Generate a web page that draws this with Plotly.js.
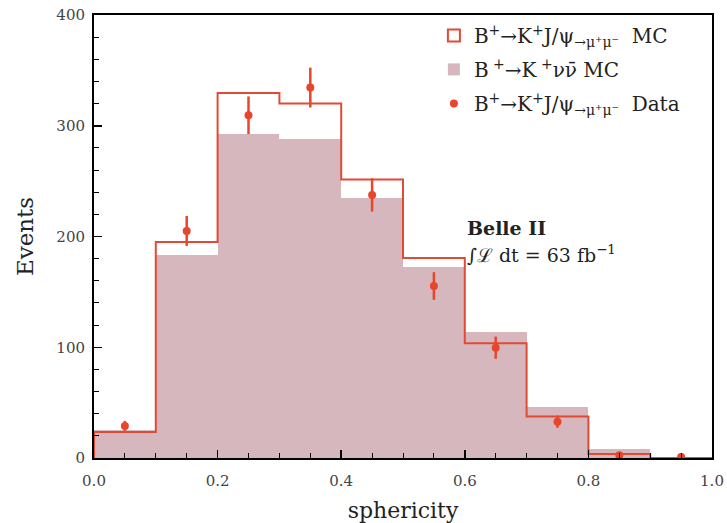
<!DOCTYPE html>
<html>
<head>
<meta charset="utf-8">
<script src="https://cdn.plot.ly/plotly-3.0.1.min.js"></script>
<style>html,body{margin:0;padding:0;background:#fff;}#chart{width:727px;height:523px;}</style>
</head>
<body>
<div id="chart"></div>
<script>
// bin definitions
const binEdges = [0.0, 0.1, 0.2, 0.3, 0.4, 0.5, 0.6, 0.7, 0.8, 0.9, 1.0];
const binCenters = [0.05, 0.15, 0.25, 0.35, 0.45, 0.55, 0.65, 0.75, 0.85, 0.95];
// B+ -> K+ J/psi MC (red step outline)
const jpsiMC = [23.5, 195, 329.5, 320, 251.5, 180.5, 103.5, 37.5, 3.6, 0];
// B+ -> K+ nu nubar MC (pink filled)
const nunuMC = [25, 183, 292.5, 288, 234.5, 172.7, 113.4, 46.3, 8, 0];
// data points with errors
const dataY = [29, 205, 309.5, 334.5, 237.5, 155.3, 99.6, 32.8, 2.5, 1];
const dataErr = [4.5, 13.5, 17, 18, 15, 12.5, 10, 5.5, 2, 1.5];
const xTickVals = [0.0, 0.2, 0.4, 0.6, 0.8, 1.0];
const yTickVals = [0, 100, 200, 300, 400];

const RED = '#e14b35';
const PINK = '#d5b7bd';
const DOT = '#e8452d';
const SERIF = '"DejaVu Serif", "Liberation Serif", serif';

// step outline built from bin edges
const stepX = [binEdges[0]];
const stepY = [0];
for (let i = 0; i < jpsiMC.length; i++) { stepX.push(binEdges[i]); stepY.push(jpsiMC[i]); }
stepX.push(binEdges[binEdges.length - 1]); stepY.push(jpsiMC[jpsiMC.length - 1]);

const lab1 = 'B<sup>+</sup>→K<sup>+</sup>J/ψ<sub>→μ⁺μ⁻</sub>  MC';
const lab2 = 'B<sup> +</sup>→K<sup> +</sup>νν̄ MC';
const lab3 = 'B<sup>+</sup>→K<sup>+</sup>J/ψ<sub>→μ⁺μ⁻</sub>  Data';

const traces = [
  { type: 'bar', x: [null], y: [null], name: lab1, showlegend: true, legendgroup: 'a',
    marker: { color: 'rgba(255,255,255,1)', line: { color: RED, width: 2 } }, legendrank: 1 },
  { type: 'bar', x: binCenters, y: nunuMC, width: 0.1, name: lab2, legendgroup: 'b',
    marker: { color: PINK, line: { width: 0 } }, legendrank: 2 },
  { type: 'scatter', mode: 'lines', x: stepX, y: stepY, line: { shape: 'hv', color: RED, width: 2 },
    showlegend: false, name: 'jpsi MC', legendgroup: 'a' },
  { type: 'scatter', mode: 'markers', x: binCenters, y: dataY, name: lab3, legendrank: 3, legendgroup: 'c',
    marker: { color: DOT, size: 8 },
    error_y: { type: 'data', array: dataErr, visible: true, color: DOT, thickness: 2.5, width: 0 } }
];

const axisCommon = {
  showline: true, linecolor: '#000', linewidth: 2, mirror: true,
  ticks: 'inside', tickcolor: '#000', tickwidth: 1.5, ticklen: 8,
  showgrid: false, zeroline: false,
  tickfont: { family: SERIF, size: 15, color: '#444' }
};

const layout = {
  width: 727, height: 523,
  margin: { l: 94, r: 15, t: 15, b: 65 },
  paper_bgcolor: '#fff', plot_bgcolor: '#fff',
  barmode: 'overlay', bargap: 0,
  showlegend: true,
  legend: {
    x: 0.55, y: 0.998, xanchor: 'left', yanchor: 'top',
    bgcolor: 'rgba(255,255,255,0)', borderwidth: 0,
    font: { family: SERIF, size: 20, color: '#222' },
    traceorder: 'grouped', tracegroupgap: 5
  },
  xaxis: Object.assign({}, axisCommon, {
    range: [0, 1], tickvals: xTickVals, ticktext: xTickVals.map(v => v.toFixed(1)),
    ticklabelstandoff: 8,
    minor: { dtick: 0.05, tick0: 0, ticks: 'inside', ticklen: 5, tickcolor: '#000', tickwidth: 1 },
    title: { text: 'sphericity', font: { family: SERIF, size: 22, color: '#222' }, standoff: 14 }
  }),
  yaxis: Object.assign({}, axisCommon, {
    range: [0, 400], tickvals: yTickVals, ticklabelstandoff: 4,
    minor: { dtick: 20, tick0: 0, ticks: 'inside', ticklen: 5, tickcolor: '#000', tickwidth: 1 },
    title: { text: 'Events', font: { family: SERIF, size: 23, color: '#222' }, standoff: 16 }
  }),
  annotations: [
    { xref: 'paper', yref: 'paper', x: 0.6, y: 0.52, xanchor: 'left', yanchor: 'middle', showarrow: false,
      text: '<b>Belle II</b>', font: { family: SERIF, size: 19, color: '#222' } },
    { xref: 'paper', yref: 'paper', x: 0.6, y: 0.46, xanchor: 'left', yanchor: 'middle', showarrow: false,
      text: '∫ℒ dt = 63 fb<sup>−1</sup>', font: { family: SERIF, size: 19, color: '#222' } }
  ]
};

Plotly.newPlot('chart', traces, layout, { displayModeBar: false, staticPlot: true });
</script>
</body>
</html>
